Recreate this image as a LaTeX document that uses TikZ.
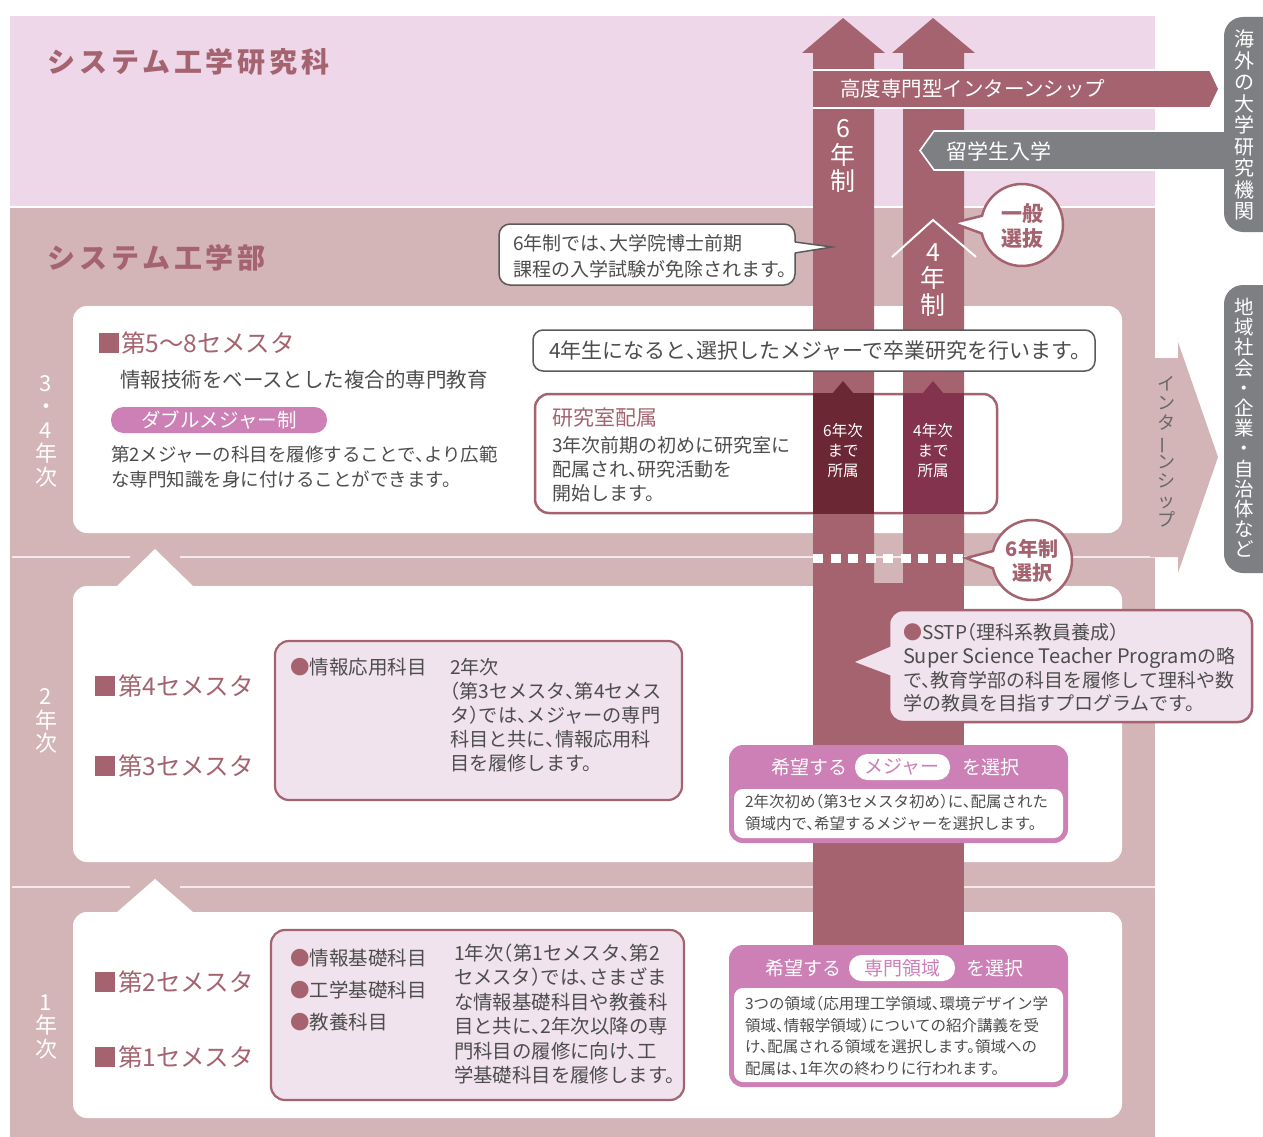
\documentclass[tikz,border=0pt]{standalone}
\usepackage{fontspec}
\setmainfont{Noto Sans CJK JP}[RawFeature=+halt]
\newfontfamily\plainjp{Noto Sans CJK JP}
\definecolor{bgtop}{HTML}{EDD7E8}
\definecolor{bgmain}{HTML}{D3B5B8}
\definecolor{mauve}{HTML}{A4636F}
\definecolor{darksix}{HTML}{6B2733}
\definecolor{darkfour}{HTML}{84334F}
\definecolor{orchid}{HTML}{CC80B6}
\definecolor{lightbox}{HTML}{F1E3ED}
\definecolor{pillgray}{HTML}{7E7F82}
\definecolor{txt}{HTML}{4D4D4D}
\definecolor{cgray}{HTML}{5A5A5A}
\definecolor{sepc}{HTML}{F3EAEC}
\newcommand{\fz}[2]{\fontsize{#1}{#2}\selectfont}
\newcommand{\vbar}{\rotatebox[origin=c]{90}{ー}}
\tikzset{
  lbl/.style={inner sep=0pt, outer sep=0pt, anchor=west, align=left, text=txt},
  ctr/.style={inner sep=0pt, outer sep=0pt, align=center},
  sepline/.style={draw=sepc, line width=2pt},
  semtx/.style={inner sep=0pt, anchor=west, text=mauve, font=\fz{24.5}{27}},
  innerbox/.style={fill=lightbox, draw=mauve, line width=2.2pt, rounded corners=14pt},
  title/.style={inner sep=0pt, anchor=west, text=mauve, font=\fz{28}{30}\bfseries\addfontfeatures{LetterSpace=14}},
  yearlbl/.style={ctr, text=white, font=\plainjp\fz{22}{23.5}},
  pilltx/.style={ctr, text=white, font=\plainjp\fz{20}{21.5}},
  circtx/.style={ctr, text=mauve, font=\fz{21}{25}\bfseries},
  whiteband/.style={draw=white, line width=1.6pt},
}
\begin{document}
\begin{tikzpicture}[x=1pt,y=-1pt]
\useasboundingbox (0,0) rectangle (1263,1137);
\clip (0,0) rectangle (1263,1137);
\fill[white] (0,0) rectangle (1263,1137);
% regions
\fill[bgtop] (10,16) rectangle (1155,206);
\fill[bgmain] (10,208) rectangle (1155,1137);
% year boxes
\fill[white, rounded corners=14pt] (73,306) rectangle (1122,533);
\fill[white, rounded corners=14pt] (73,586) rectangle (1122,862);
\fill[white, rounded corners=14pt] (73,912) rectangle (1122,1118);
\draw[sepline] (12,557) -- (130,557);
\draw[sepline] (180,557) -- (1155,557);
\draw[sepline] (12,887) -- (130,887);
\draw[sepline] (180,887) -- (1155,887);
\fill[white] (116,587) -- (155,549) -- (194,587) -- cycle;
\fill[white] (116,913) -- (155,879) -- (194,913) -- cycle;
% internship arrow
\fill[bgmain] (1150,358) -- (1178,358) -- (1178,342) -- (1218,457) -- (1178,573) -- (1178,557) -- (1150,557) -- cycle;
\node[ctr, text=txt!85, font=\plainjp\fz{18}{19.5}] (intern) at (1166,452) {イ\\ン\\タ\\\vbar\\ン\\シ\\ッ\\プ};
% titles
\node[title] (t1) at (47,62) {システム工学研究科};
\node[title] (t2) at (47,258) {システム工学部};
% year labels
\node[yearlbl] (y34) at (46,431) {3\\・\\4\\年\\次};
\node[yearlbl] (y2) at (46,721) {2\\年\\次};
\node[yearlbl] (y1) at (46,1027) {1\\年\\次};
% big arrows
\fill[mauve] (843,18) -- (885,53) -- (874,53) -- (874,584) -- (813,584) -- (813,53) -- (802,53) -- cycle;
\fill[mauve] (933,18) -- (975,53) -- (964,53) -- (964,584) -- (903,584) -- (903,53) -- (892,53) -- cycle;
\fill[mauve] (813,583) rectangle (964,950);
\draw[white, line width=2pt] (892,257) -- (933,220) -- (976,257);
\node[ctr, text=white, font=\fz{25}{26.5}] (six) at (843,156) {6\\年\\制};
\node[ctr, text=white, font=\fz{25}{26.5}] (four) at (933,280) {4\\年\\制};
% bands
\fill[mauve] (813,70) -- (1210,70) -- (1219,89) -- (1210,108) -- (813,108) -- cycle;
\draw[whiteband] (813,70) -- (1210,70) -- (1219,89) -- (1210,108) -- (813,108);
\node[lbl, text=white, font=\fz{20.5}{23}] (koudo) at (840,89) {高度専門型インターンシップ};
\fill[pillgray] (934,131) -- (1235,131) -- (1235,170) -- (934,170) -- (920,150.5) -- cycle;
\draw[whiteband] (1235,131) -- (934,131) -- (920,150.5) -- (934,170) -- (1235,170);
\node[lbl, text=white, font=\fz{21}{23}] (ryugaku) at (946,151) {留学生入学};
% right pills
\fill[pillgray, rounded corners=19pt] (1224,17) rectangle (1300,232);
\fill[pillgray, rounded corners=19pt] (1224,285) rectangle (1300,573);
\node[pilltx] (kaigai) at (1244,125) {海\\外\\の\\大\\学\\研\\究\\機\\関};
\node[pilltx, font=\plainjp\fz{19.5}{20.2}] (chiiki) at (1244,428) {地\\域\\社\\会\\・\\企\\業\\・\\自\\治\\体\\な\\ど};
% dotted 6-year selection line
\draw[white, line width=9pt, dash pattern=on 10pt off 7.5pt] (813,558) -- (964,558);
% circle callouts
\filldraw[fill=white, draw=mauve, line width=2.5pt] (1022,225) ++(193:41) arc[start angle=193, end angle=528, radius=41] -- (953,223) -- cycle;
\node[circtx] (ippan) at (1022,226) {一般\\選抜};
\filldraw[fill=white, draw=mauve, line width=2.5pt] (1032,560) ++(193:40) arc[start angle=193, end angle=528, radius=40] -- (966,558) -- cycle;
\node[circtx, font=\fz{20}{24}\bfseries] (sel6) at (1032,561) {6年制\\選択};
% callout 6-year exemption
\filldraw[fill=white, draw=cgray, line width=1.5pt, rounded corners=11pt] (499,224) rectangle (795,285);
\fill[white] (793,242) -- (832,247) -- (793,253) -- cycle;
\draw[cgray, line width=1.5pt] (795,242) -- (832,247) -- (795,253);
\node[lbl, font=\fz{19}{25.5}] (menjo) at (513,256) {6年制では、大学院博士前期\\課程の入学試験が免除されます。};
% 4th year research box
\filldraw[fill=white, draw=cgray, line width=1.5pt, rounded corners=10pt] (533,330) rectangle (1095,371);
\node[ctr, text=txt, font=\fz{21}{23}] (sotsuken) at (815,351) {4年生になると、選択したメジャーで卒業研究を行います。};
% lab assignment box
\filldraw[fill=white, draw=mauve, line width=2.5pt, rounded corners=14pt] (535,394) rectangle (997,513);
\fill[darksix] (813,393) rectangle (874,514);
\fill[darksix] (832,394) -- (843,381) -- (854,394) -- cycle;
\fill[darkfour] (903,393) rectangle (964,514);
\fill[darkfour] (922,394) -- (933,381) -- (944,394) -- cycle;
\node[ctr, text=white, font=\fz{15.5}{20}] (z6) at (843,451) {6年次\\まで\\所属};
\node[ctr, text=white, font=\fz{15.5}{20}] (z4) at (933,451) {4年次\\まで\\所属};
\node[lbl, text=mauve, font=\fz{21}{24}] (lab) at (552,418) {研究室配属};
\node[lbl, font=\fz{19}{24}] (labtx) at (552,469) {3年次前期の初めに研究室に\\配属され、研究活動を\\開始します。};
% 3-4 year left
\fill[mauve] (99,333) rectangle (119,353);
\node[semtx] (s58) at (121,343) {第5～8セメスタ};
\node[lbl, font=\fz{20.5}{23}] (fukugo) at (120,380) {情報技術をベースとした複合的専門教育};
\fill[orchid, rounded corners=12.5pt] (111,407) rectangle (327,433);
\node[ctr, text=white, font=\fz{19.5}{22}] (double) at (219,420) {ダブルメジャー制};
\node[lbl, font=\fz{18.5}{25}] (doubletx) at (111,467) {第2メジャーの科目を履修することで、より広範\\な専門知識を身に付けることができます。};
% 2nd year
\fill[mauve] (95,676) rectangle (115,696);
\node[semtx] (s4) at (118,686) {第4セメスタ};
\fill[mauve] (95,756) rectangle (115,776);
\node[semtx] (s3) at (118,766) {第3セメスタ};
\draw[innerbox] (275,641) rectangle (682,800);
\node[lbl, font=\fz{19.5}{22}] (oyo) at (290,667) {\textcolor{mauve}{●}情報応用科目};
\node[lbl, font=\fz{19.2}{24}] (oyotx) at (450,715) {2年次\\（第3セメスタ、第4セメス\\タ）では、メジャーの専門\\科目と共に、情報応用科\\目を履修します。};
% 1st year
\fill[mauve] (95,972) rectangle (115,992);
\node[semtx] (s2) at (118,982) {第2セメスタ};
\fill[mauve] (95,1047) rectangle (115,1067);
\node[semtx] (s1) at (118,1057) {第1セメスタ};
\draw[innerbox] (271,930) rectangle (684,1100);
\node[lbl, font=\fz{19.5}{32}] (kiso) at (290,990) {\textcolor{mauve}{●}情報基礎科目\\\textcolor{mauve}{●}工学基礎科目\\\textcolor{mauve}{●}教養科目};
\node[lbl, font=\fz{19.4}{24.4}] (kisotx) at (454,1014) {1年次（第1セメスタ、第2\\セメスタ）では、さまざま\\な情報基礎科目や教養科\\目と共に、2年次以降の専\\門科目の履修に向け、工\\学基礎科目を履修します。};
% SSTP callout
\filldraw[fill=lightbox, draw=mauve, line width=2.5pt, rounded corners=14pt] (889,610) rectangle (1252,722);
\fill[lightbox] (892,646) -- (855,662) -- (892,676) -- cycle;
\node[lbl, font=\fz{19}{23.7}] (sstp) at (903,668) {\textcolor{mauve}{●}SSTP（理科系教員養成）\\{\fontsize{20}{23.7}\selectfont Super Science Teacher Program}の略\\で、教育学部の科目を履修して理科や数\\学の教員を目指すプログラムです。};
% major selection box
\fill[orchid, rounded corners=14pt] (729,745) rectangle (1068,843);
\fill[white, rounded corners=9pt] (734,789) rectangle (1063,838);
\node[ctr, text=white, font=\fz{19}{22}] (kibo1) at (809,767) {希望する};
\fill[white, rounded corners=12.5pt] (855,754) rectangle (950,780);
\node[ctr, text=orchid, font=\fz{19}{22}] (major) at (902,767) {メジャー};
\node[ctr, text=white, font=\fz{19}{22}] (sentaku1) at (991,767) {を選択};
\node[lbl, font=\fz{15.5}{22}] (majortx) at (745,813) {2年次初め（第3セメスタ初め）に、配属された\\領域内で、希望するメジャーを選択します。};
% field selection box
\fill[orchid, rounded corners=14pt] (729,945) rectangle (1068,1087);
\fill[white, rounded corners=9pt] (734,988) rectangle (1063,1082);
\node[ctr, text=white, font=\fz{19}{22}] (kibo2) at (803,968) {希望する};
\fill[white, rounded corners=12.5pt] (849,955) rectangle (955,981);
\node[ctr, text=orchid, font=\fz{19}{22}] (field) at (902,968) {専門領域};
\node[ctr, text=white, font=\fz{19}{22}] (sentaku2) at (995,968) {を選択};
\node[lbl, font=\fz{15.5}{21.5}] (fieldtx) at (745,1036) {3つの領域（応用理工学領域、環境デザイン学\\領域、情報学領域）についての紹介講義を受\\け、配属される領域を選択します。領域への\\配属は、1年次の終わりに行われます。};
\end{tikzpicture}
\end{document}
